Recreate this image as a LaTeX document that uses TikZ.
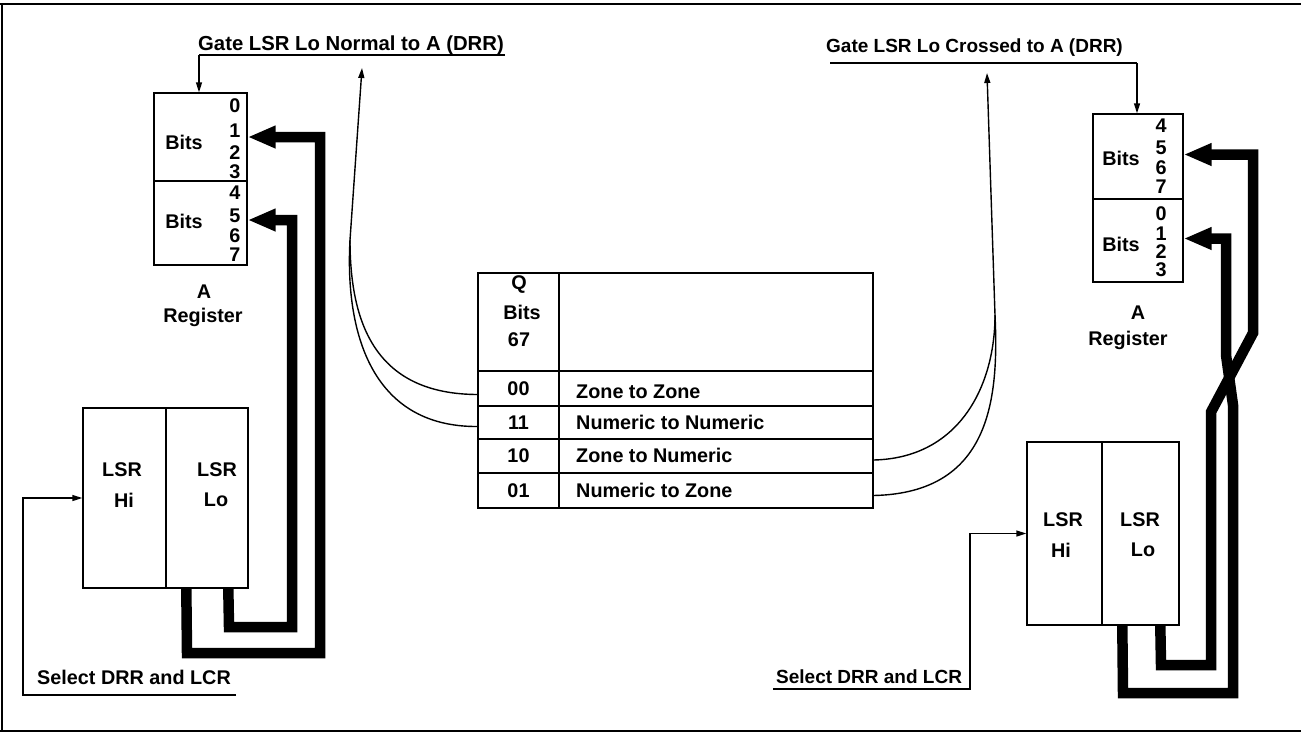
\documentclass[tikz,border=0pt]{standalone}
\usepackage{fontspec}
\newfontfamily\lsfam{Liberation Sans}
\newcommand\lblfont{\lsfam\bfseries\fontsize{19.8}{24}\selectfont}
\usetikzlibrary{arrows.meta,calc}
\tikzset{
  box/.style={draw, line width=1.4pt, inner sep=0pt},
  txt/.style={inner sep=0pt, font=\lblfont},
  thinline/.style={line width=1.4pt},
  sarrow/.style={thinline, -{Triangle[length=10pt,width=6pt]}},
  bus/.style={line width=10.5pt, -{Triangle[length=28pt,width=21pt]}},
  frameline/.style={line width=1.8pt},
}
\begin{document}
\begin{tikzpicture}[x=1pt,y=-1pt]
\useasboundingbox (0,0) rectangle (1301,732);
% frame
\draw[frameline] (0,4) -- (1301,4);
\draw[frameline] (2,4) -- (2,731);
\draw[frameline] (0,731) -- (1301,731);

% ---------- left A register ----------
\node[box, minimum width=93pt, minimum height=88pt] (aL1) at (200.5,137) {};
\node[box, minimum width=93pt, minimum height=84pt] (aL2) at (200.5,223) {};
\node[txt] (aL1t) at (184,142) {Bits};
\node[txt] (aL2t) at (184,221) {Bits};
\node[txt] (dL0) at (235,106) {0};
\node[txt] (dL1) at (235,131) {1};
\node[txt] (dL2) at (235,153) {2};
\node[txt] (dL3) at (235,172) {3};
\node[txt] (dL4) at (235,193) {4};
\node[txt] (dL5) at (235,216) {5};
\node[txt] (dL6) at (235,236) {6};
\node[txt] (dL7) at (235,255) {7};
\node[txt] (aLa) at (204,292) {A};
\node[txt] (aLr) at (203,317) {Register};

% ---------- left LSR ----------
\node[box, minimum width=83pt, minimum height=180pt] (lHi) at (124.5,498) {};
\node[box, minimum width=82pt, minimum height=180pt] (lLo) at (207,498) {};
\node[txt] (lHi1) at (122,470) {LSR};
\node[txt] (lHi2) at (124,500) {Hi};
\node[txt] (lLo1) at (217,470) {LSR};
\node[txt] (lLo2) at (216,500) {Lo};

% gate normal
\coordinate (gN) at (199,55);
\coordinate (gNe) at (505,55);
\node[txt, anchor=base west, font=\lsfam\bfseries\fontsize{20.3}{24}\selectfont] (gNt) at (198,50) {Gate LSR Lo Normal to A (DRR)};
\draw[thinline] (gNe) -- (gN);
\draw[sarrow] (gN) -- (gN |- aL1.north);

% select left
\coordinate (sL) at (236,695);
\node[txt, anchor=base west] (sLt) at (37,684) {Select DRR and LCR};
\draw[sarrow] (sL) -- (23,695) -- (23,498) -- (lHi.west);

% left buses
\draw[bus] ([xshift=21pt]lLo.south west) -- (187,653) -- (320,653) -- (320,137) -- (aL1.east);
\draw[bus] ([xshift=63pt]lLo.south west) -- (229,627) -- (292,627) -- (292,220) -- ([yshift=3pt]aL2.east);

% ---------- centre table ----------
\node[box, minimum width=81pt, minimum height=98pt] (qh) at (518.5,322) {};
\node[box, minimum width=314pt, minimum height=98pt] (qd) at (716,322) {};
\node[txt] (qh1) at (519,285) {Q};
\node[txt] (qh2) at (522,312) {Bits};
\node[txt] (qh3) at (519,340) {67};

\node[box, minimum width=81pt, minimum height=35pt, font=\lblfont] (c00) at (518.5,388.5) {00};
\node[box, minimum width=314pt, minimum height=35pt] (d00) at (716,388.5) {};
\node[box, minimum width=81pt, minimum height=33pt, font=\lblfont] (c11) at (518.5,422.5) {11};
\node[box, minimum width=314pt, minimum height=33pt] (d11) at (716,422.5) {};
\node[box, minimum width=81pt, minimum height=34pt, font=\lblfont] (c10) at (518.5,456) {10};
\node[box, minimum width=314pt, minimum height=34pt] (d10) at (716,456) {};
\node[box, minimum width=81pt, minimum height=35pt, font=\lblfont] (c01) at (518.5,490.5) {01};
\node[box, minimum width=314pt, minimum height=35pt] (d01) at (716,490.5) {};
\node[txt, anchor=west] (t00) at (576,392) {Zone to Zone};
\node[txt, anchor=west] (t11) at (576,422) {Numeric to Numeric};
\node[txt, anchor=west] (t10) at (576,455) {Zone to Numeric};
\node[txt, anchor=west] (t01) at (576,490) {Numeric to Zone};

% left curves
\coordinate (jL) at (350,240);
\coordinate (tipL) at (362,68);
\draw[thinline] ([yshift=-6pt]c00.west) .. controls (380,394) and (350,330) .. (jL);
\draw[thinline] ([yshift=-4pt]c11.west) .. controls (370,427) and (345,330) .. (jL);
\draw[sarrow] (jL) -- (tipL);

% right curves
\coordinate (jR) at (995,315);
\coordinate (tipR) at (987,73);
\draw[thinline] ([yshift=-4pt]d10.east) .. controls (960,458) and (995,385) .. (jR);
\draw[thinline] ([yshift=-5pt]d01.east) .. controls (990,493) and (999,400) .. (jR);
\draw[sarrow] (jR) -- (tipR);

% ---------- right A register ----------
\node[box, minimum width=90pt, minimum height=85pt] (aR1) at (1138,156.5) {};
\node[box, minimum width=90pt, minimum height=83pt] (aR2) at (1138,240.5) {};
\node[txt] (aR1t) at (1121,158) {Bits};
\node[txt] (aR2t) at (1121,244) {Bits};
\node[txt] (dR4) at (1161,126) {4};
\node[txt] (dR5) at (1161,148) {5};
\node[txt] (dR6) at (1161,168) {6};
\node[txt] (dR7) at (1161,187) {7};
\node[txt] (dR0) at (1161,214) {0};
\node[txt] (dR1) at (1161,234) {1};
\node[txt] (dR2) at (1161,252) {2};
\node[txt] (dR3) at (1161,270) {3};
\node[txt] (aRa) at (1138,313) {A};
\node[txt] (aRr) at (1128,340) {Register};

% gate crossed
\coordinate (gC) at (1137,63);
\coordinate (gCs) at (830,63);
\node[txt, anchor=base west, font=\lsfam\bfseries\fontsize{19}{24}\selectfont] (gCt) at (826,52) {Gate LSR Lo Crossed to A (DRR)};
\draw[thinline] (gCs) -- (gC);
\draw[sarrow] (gC) -- (gC |- aR1.north);

% ---------- right LSR ----------
\node[box, minimum width=75pt, minimum height=183pt] (rHi) at (1064.5,533.5) {};
\node[box, minimum width=77pt, minimum height=183pt] (rLo) at (1140.5,533.5) {};
\node[txt] (rHi1) at (1063,520) {LSR};
\node[txt] (rHi2) at (1061,550) {Hi};
\node[txt] (rLo1) at (1140,520) {LSR};
\node[txt] (rLo2) at (1143,550) {Lo};

% select right
\coordinate (sR) at (773,689);
\node[txt, anchor=base west, font=\lsfam\bfseries\fontsize{19}{24}\selectfont] (sRt) at (776,683) {Select DRR and LCR};
\draw[sarrow] (sR) -- (970,689) -- (970,533.5) -- (rHi.west);

% right buses (crossed)
\draw[bus] ([xshift=59pt]rLo.south west) -- (1161,665) -- (1211,665) -- (1211,412) -- (1253,333) -- (1253,154.5) -- ([yshift=2pt]aR1.east);
\draw[bus] ([xshift=21pt]rLo.south west) -- (1123,693) -- (1233,693) -- (1233,405) -- (1226,355) -- (1226,238.5) -- ([yshift=2pt]aR2.east);
\end{tikzpicture}
\end{document}
